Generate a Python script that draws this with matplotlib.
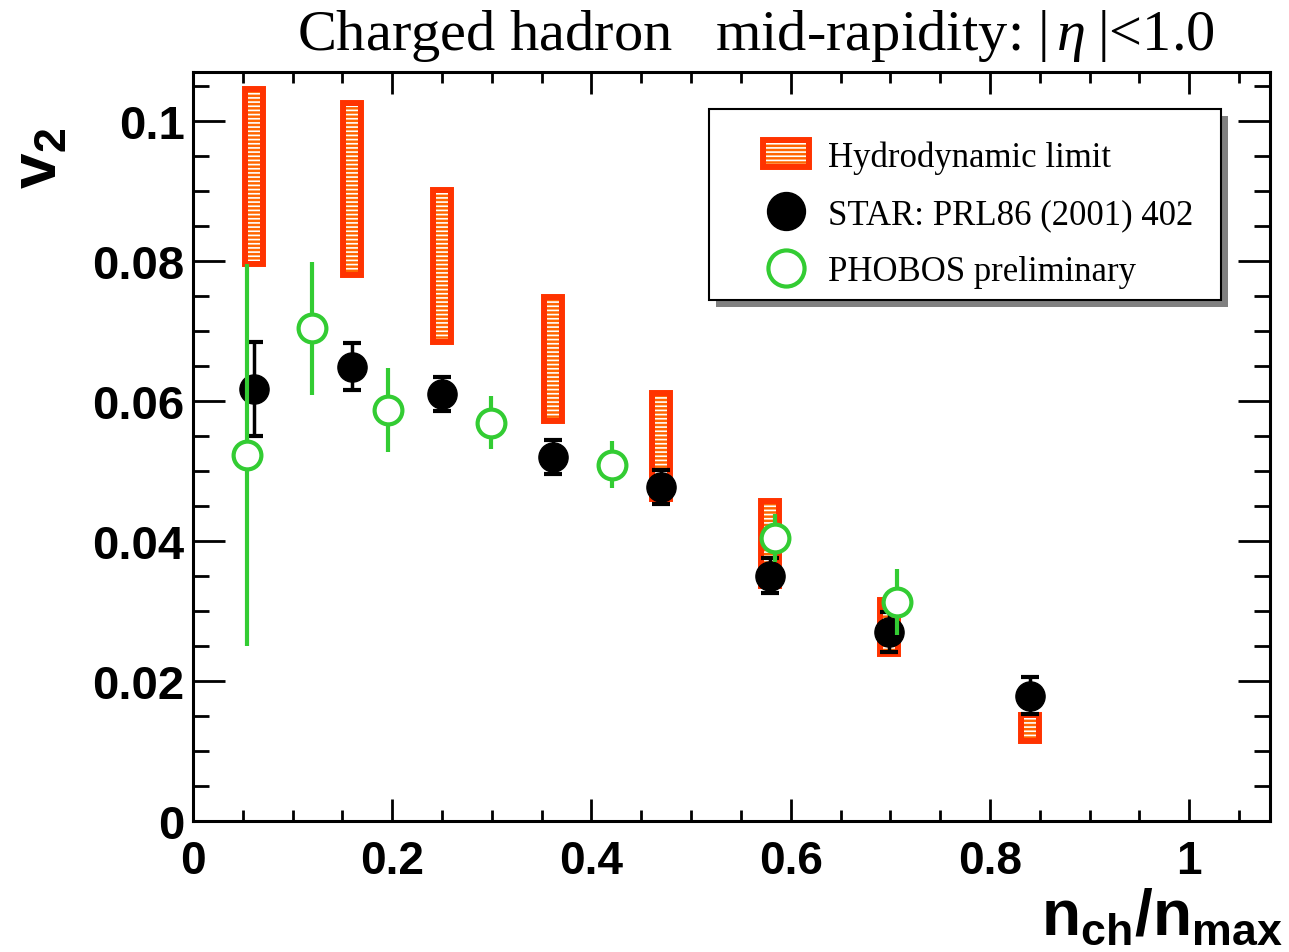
import matplotlib
matplotlib.use('Agg')
import numpy as np
import matplotlib.pyplot as plt
import matplotlib.patheffects as pe
from matplotlib.patches import Rectangle
from matplotlib.legend_handler import HandlerPatch
from matplotlib.ticker import MultipleLocator, FormatStrFormatter

## Hydrodynamic limit (range of v2 at each centrality)
hydro_x = [0.061, 0.160, 0.250, 0.361, 0.470, 0.579, 0.699, 0.840]
hydro_lo = [0.0800, 0.0784, 0.0689, 0.0576, 0.0464, 0.0340, 0.0243, 0.0119]
hydro_hi = [0.1041, 0.1021, 0.0897, 0.0744, 0.0607, 0.0453, 0.0311, 0.0147]

## STAR: PRL86 (2001) 402
star_x = [0.061, 0.160, 0.250, 0.361, 0.470, 0.579, 0.699, 0.840]
star_y = [0.0617, 0.0649, 0.0610, 0.0520, 0.0477, 0.0350, 0.0270, 0.0179]
star_err = [0.0067, 0.0034, 0.0024, 0.0024, 0.0024, 0.0025, 0.0028, 0.0026]

## PHOBOS preliminary
phobos_x = [0.054, 0.1195, 0.196, 0.299, 0.4207, 0.5843, 0.7068]
phobos_y = [0.0523, 0.0704, 0.0587, 0.0569, 0.0509, 0.0404, 0.0313]
phobos_err = [0.0273, 0.0095, 0.0060, 0.0038, 0.0034, 0.0034, 0.0047]

labels = ['Hydrodynamic limit', 'STAR: PRL86 (2001) 402', 'PHOBOS preliminary']

plt.rcParams['font.family'] = 'Liberation Sans'
plt.rcParams['font.weight'] = 'bold'
plt.rcParams['mathtext.fontset'] = 'custom'
plt.rcParams['mathtext.rm'] = 'Liberation Serif:weight=normal'
plt.rcParams['mathtext.it'] = 'Liberation Serif:style=italic:weight=normal'
plt.rcParams['mathtext.bf'] = 'Liberation Sans:weight=bold'
plt.rcParams['hatch.color'] = 'white'
plt.rcParams['hatch.linewidth'] = 1.2

fig = plt.figure(figsize=(12.89, 9.53), dpi=100)
ax = fig.add_axes([0.1497, 0.1375, 0.8355, 0.786])

red_edge = '#FF3300'
inner = '#FF6600'
green = '#33CC33'

hydro = ax.bar(hydro_x, np.array(hydro_hi) - np.array(hydro_lo), bottom=hydro_lo,
               width=0.012, color=inner, hatch='----', linewidth=0, zorder=1,
               path_effects=[pe.withStroke(linewidth=8.6, foreground=red_edge)])

star = ax.errorbar(star_x, star_y, yerr=star_err, fmt='o', color='black',
                   ms=21, elinewidth=2.5, capsize=6.5, capthick=3, zorder=3)

phobos = ax.errorbar(phobos_x, phobos_y, yerr=phobos_err, fmt='o', color=green,
                     mfc='white', mec=green, ms=20, mew=3, elinewidth=3,
                     capsize=0, zorder=4)

ax.set_xlim(0, 1.081)
ax.set_ylim(0, 0.107)

ax.xaxis.set_major_locator(MultipleLocator(0.2))
ax.xaxis.set_minor_locator(MultipleLocator(0.05))
ax.yaxis.set_major_locator(MultipleLocator(0.02))
ax.yaxis.set_minor_locator(MultipleLocator(0.005))
ax.xaxis.set_major_formatter(FormatStrFormatter('%g'))
ax.yaxis.set_major_formatter(FormatStrFormatter('%g'))

ax.tick_params(which='both', direction='in', top=True, right=True, width=2)
ax.tick_params(axis='x', which='major', length=16, labelsize=33, pad=13)
ax.tick_params(axis='x', which='minor', length=8)
ax.tick_params(axis='y', which='major', length=23, labelsize=34, pad=6)
ax.tick_params(axis='y', which='minor', length=11.5)
for s in ax.spines.values():
    s.set_linewidth(2.2)

# legend box with a grey drop shadow (drawn by hand, ROOT style)
ax.add_patch(Rectangle((0.479 + 0.0065, 0.696 - 0.0093), 0.476, 0.255,
                       transform=ax.transAxes, facecolor='#808080',
                       edgecolor='none', zorder=4.8, clip_on=False))
ax.add_patch(Rectangle((0.479, 0.696), 0.476, 0.255, transform=ax.transAxes,
                       facecolor='white', edgecolor='black', linewidth=1.5,
                       zorder=4.9, clip_on=False))


def small_box(legend, orig_handle, xdescent, ydescent, width, height, fontsize):
    w, h = 29, 15
    return Rectangle((-xdescent + width / 2 - w / 2, -ydescent + height / 2 - h / 2), w, h)


leg = ax.legend(handles=[hydro.patches[0], star[0], phobos[0]], labels=labels,
                handler_map={Rectangle: HandlerPatch(patch_func=small_box)},
                loc='upper left', bbox_to_anchor=(0.4977, 0.909),
                borderaxespad=0, borderpad=0, frameon=False,
                handlelength=3.3, handletextpad=-0.45, labelspacing=0.7,
                numpoints=1, markerscale=1.3,
                prop={'family': 'Liberation Serif', 'weight': 'normal', 'size': 25})
leg.set_zorder(5)

fig.text(0.2304, 0.9475, r'Charged hadron   mid-rapidity: |$\,\eta\;$|<1.0',
         ha='left', va='baseline', fontsize=42, family='Liberation Serif',
         weight='normal')
fig.text(0.031, 0.834, r'$\mathbf{v_2}$', rotation=90, ha='center', va='center',
         fontsize=46)
fig.text(0.995, 0.005, r'$\mathbf{n_{ch}/n_{max}}$', ha='right', va='bottom',
         fontsize=46)

fig.savefig('out.png', dpi=100)
